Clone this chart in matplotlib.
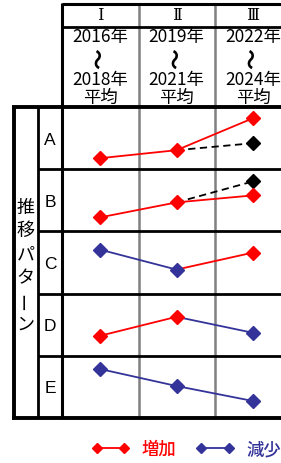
import matplotlib
matplotlib.use('Agg')
import matplotlib.pyplot as plt
from matplotlib.lines import Line2D

plt.rcParams['font.family'] = ['Noto Sans CJK JP', 'DejaVu Sans']

# column headers
periods = ['Ⅰ', 'Ⅱ', 'Ⅲ']
start_years = ['2016年', '2019年', '2022年']
end_years = ['2018年', '2021年', '2024年']

# patterns: value at each period (height within the row) and colour of each segment
patterns = ['A', 'B', 'C', 'D', 'E']
values = {
    'A': [11, 19, 51],
    'B': [14, 29, 36],
    'C': [44, 24, 41],
    'D': [20, 39, 23],
    'E': [49, 32, 17],
}
# segment kind: 'up' = 増加, 'down' = 減少
segments = {
    'A': ['up', 'up'],
    'B': ['up', 'up'],
    'C': ['down', 'up'],
    'D': ['up', 'down'],
    'E': ['down', 'down'],
}
# reference (previous trend) third value, dashed black
reference = {'A': 26, 'B': 50}

RED = '#ff0000'
BLUE = '#333399'
seg_color = {'up': RED, 'down': BLUE}

W, H = 281, 464
fig = plt.figure(figsize=(W / 100, H / 100), dpi=100)

# background axes in pixel coordinates for the table frame
bg = fig.add_axes([0, 0, 1, 1])
bg.set_xlim(0, W)
bg.set_ylim(H, 0)
bg.axis('off')

col_left = 62
col_w = 76.5
x0 = col_left + 38
row_top = 108
row_h = 62.2
bottom = row_top + row_h * 5

# gray column separators
for i in (1, 2):
    xs = col_left + col_w * i
    bg.plot([xs, xs], [5, bottom], color='#808080', lw=1.8)

# black frame
k = dict(color='black', solid_capstyle='butt')
bg.plot([col_left, W], [5, 5], lw=2.2, **k)
bg.plot([col_left, W], [28, 28], lw=2, **k)
bg.plot([12, W], [row_top, row_top], lw=2.8, **k)
for r in range(1, 5):
    yy = row_top + row_h * r
    bg.plot([38, W], [yy, yy], lw=2, **k)
bg.plot([12, W], [bottom, bottom], lw=2.8, **k)
bg.plot([13.5, 13.5], [row_top, bottom], lw=2.8, **k)
bg.plot([38, 38], [row_top, bottom], lw=2, **k)
bg.plot([62, 62], [4, bottom], lw=2.2, **k)

# header texts
for i in range(3):
    cx = x0 + col_w * i
    bg.text(cx, 16, periods[i], ha='center', va='center', fontsize=12,
            family=['DejaVu Serif', 'Noto Sans CJK JP'])
    bg.text(cx, 37, start_years[i], ha='center', va='center', fontsize=12.5)
    bg.text(cx, 59, '〜', ha='center', va='center', fontsize=15, rotation=90,
            weight='bold')
    bg.text(cx, 80, end_years[i], ha='center', va='center', fontsize=12.5)
    bg.text(cx, 98, '平均', ha='center', va='center', fontsize=12.5)

# vertical side label
side = '推移パターン'
for j, ch in enumerate(side):
    rot = 90 if ch == 'ー' else 0
    bg.text(25.5, 208 + 23.3 * j, ch, ha='center', va='center', fontsize=13, rotation=rot)

# one axes per pattern row
for r, p in enumerate(patterns):
    top = row_top + row_h * r
    ax = fig.add_axes([col_left / W, 1 - (top + row_h) / H, (W - col_left) / W, row_h / H])
    ax.set_xlim(-38 / col_w, (W - col_left - 38) / col_w)
    ax.set_ylim(0, row_h)
    ax.axis('off')
    ax.patch.set_alpha(0)
    v = values[p]
    if p in reference:
        ax.plot([1, 2], [v[1], reference[p]], color='black', ls=(0, (4, 2.5)), lw=1.3)
        ax.plot([2], [reference[p]], marker='D', color='black', ms=7, ls='none')
    for s in range(2):
        ax.plot([s, s + 1], [v[s], v[s + 1]], color=seg_color[segments[p][s]], lw=1.3)
    pt_colors = [seg_color[segments[p][0]], seg_color[segments[p][0]], seg_color[segments[p][1]]]
    for i in range(3):
        ax.plot([i], [v[i]], marker='D', color=pt_colors[i], ms=7, ls='none', zorder=3)
    bg.text(50, top + row_h / 2 + 1, p, ha='center', va='center', fontsize=12.5,
            family=['Liberation Sans', 'DejaVu Sans'])

# legend
handles = [Line2D([0], [0], color=RED, marker='D', ms=5, lw=1.3),
           Line2D([0], [0], color=BLUE, marker='D', ms=5, lw=1.3)]
fig.legend(handles, ['増加', '減少'], loc='center', bbox_to_anchor=(186 / W, 1 - 450 / H),
           ncol=2, frameon=False, numpoints=2, handlelength=2.2, handletextpad=0.7,
           columnspacing=1.1, labelcolor='linecolor', borderpad=0,
           prop={'weight': 'medium', 'size': 12.5})

fig.savefig('out.png', dpi=100)
